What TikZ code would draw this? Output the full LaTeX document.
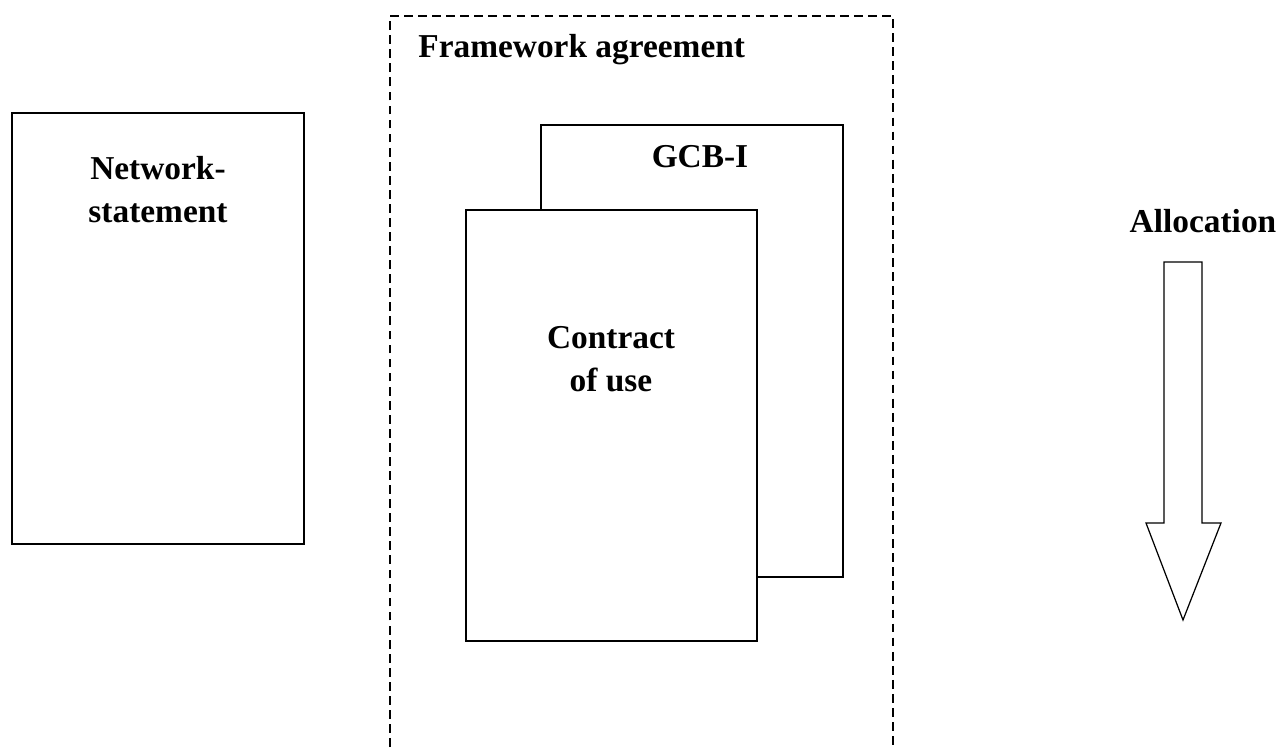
\documentclass[tikz,border=0pt]{standalone}
\usepackage{fontspec}
\setmainfont{Liberation Serif}
\begin{document}
\begin{tikzpicture}
        \tikzstyle{doc}=[draw,line width=0.8pt,fill=white,inner sep=0pt]
        \tikzstyle{label}=[font=\bfseries\fontsize{19}{24.5}\selectfont,align=center,inner sep=0pt]
        \useasboundingbox (0,0) rectangle (25.56,14.94);
        % framework agreement (open at the bottom)
        \draw[line width=0.7pt,dash pattern=on 5pt off 3pt] (7.8,0) -- (7.8,14.62) -- (17.86,14.62) -- (17.86,0);
        \node[label,anchor=west] (Framework) at (8.36,13.94) {Framework agreement};
        \node[doc,minimum width=5.84cm,minimum height=8.62cm] (Network) at (3.16,8.37) {};
        \node[label] (NetworkText) at (3.16,11.14) {Network-\\statement};
        \node[doc,minimum width=6.04cm,minimum height=9.04cm] (GCB) at (13.84,7.92) {};
        \node[label] (GCBText) at (14.0,11.8) {GCB-I};
        \node[doc,minimum width=5.82cm,minimum height=8.62cm] (Contract) at (12.23,6.43) {};
        \node[label] (ContractText) at (12.22,7.76) {Contract\\of use};
        \node[label] (Allocation) at (24.06,10.52) {Allocation};
        % allocation arrow
        \draw[line width=0.7pt] (23.28,9.7) -- (23.28,4.48) -- (22.92,4.48) -- (23.66,2.54)
            -- (24.42,4.48) -- (24.04,4.48) -- (24.04,9.7) -- cycle;
    \end{tikzpicture}
\end{document}
